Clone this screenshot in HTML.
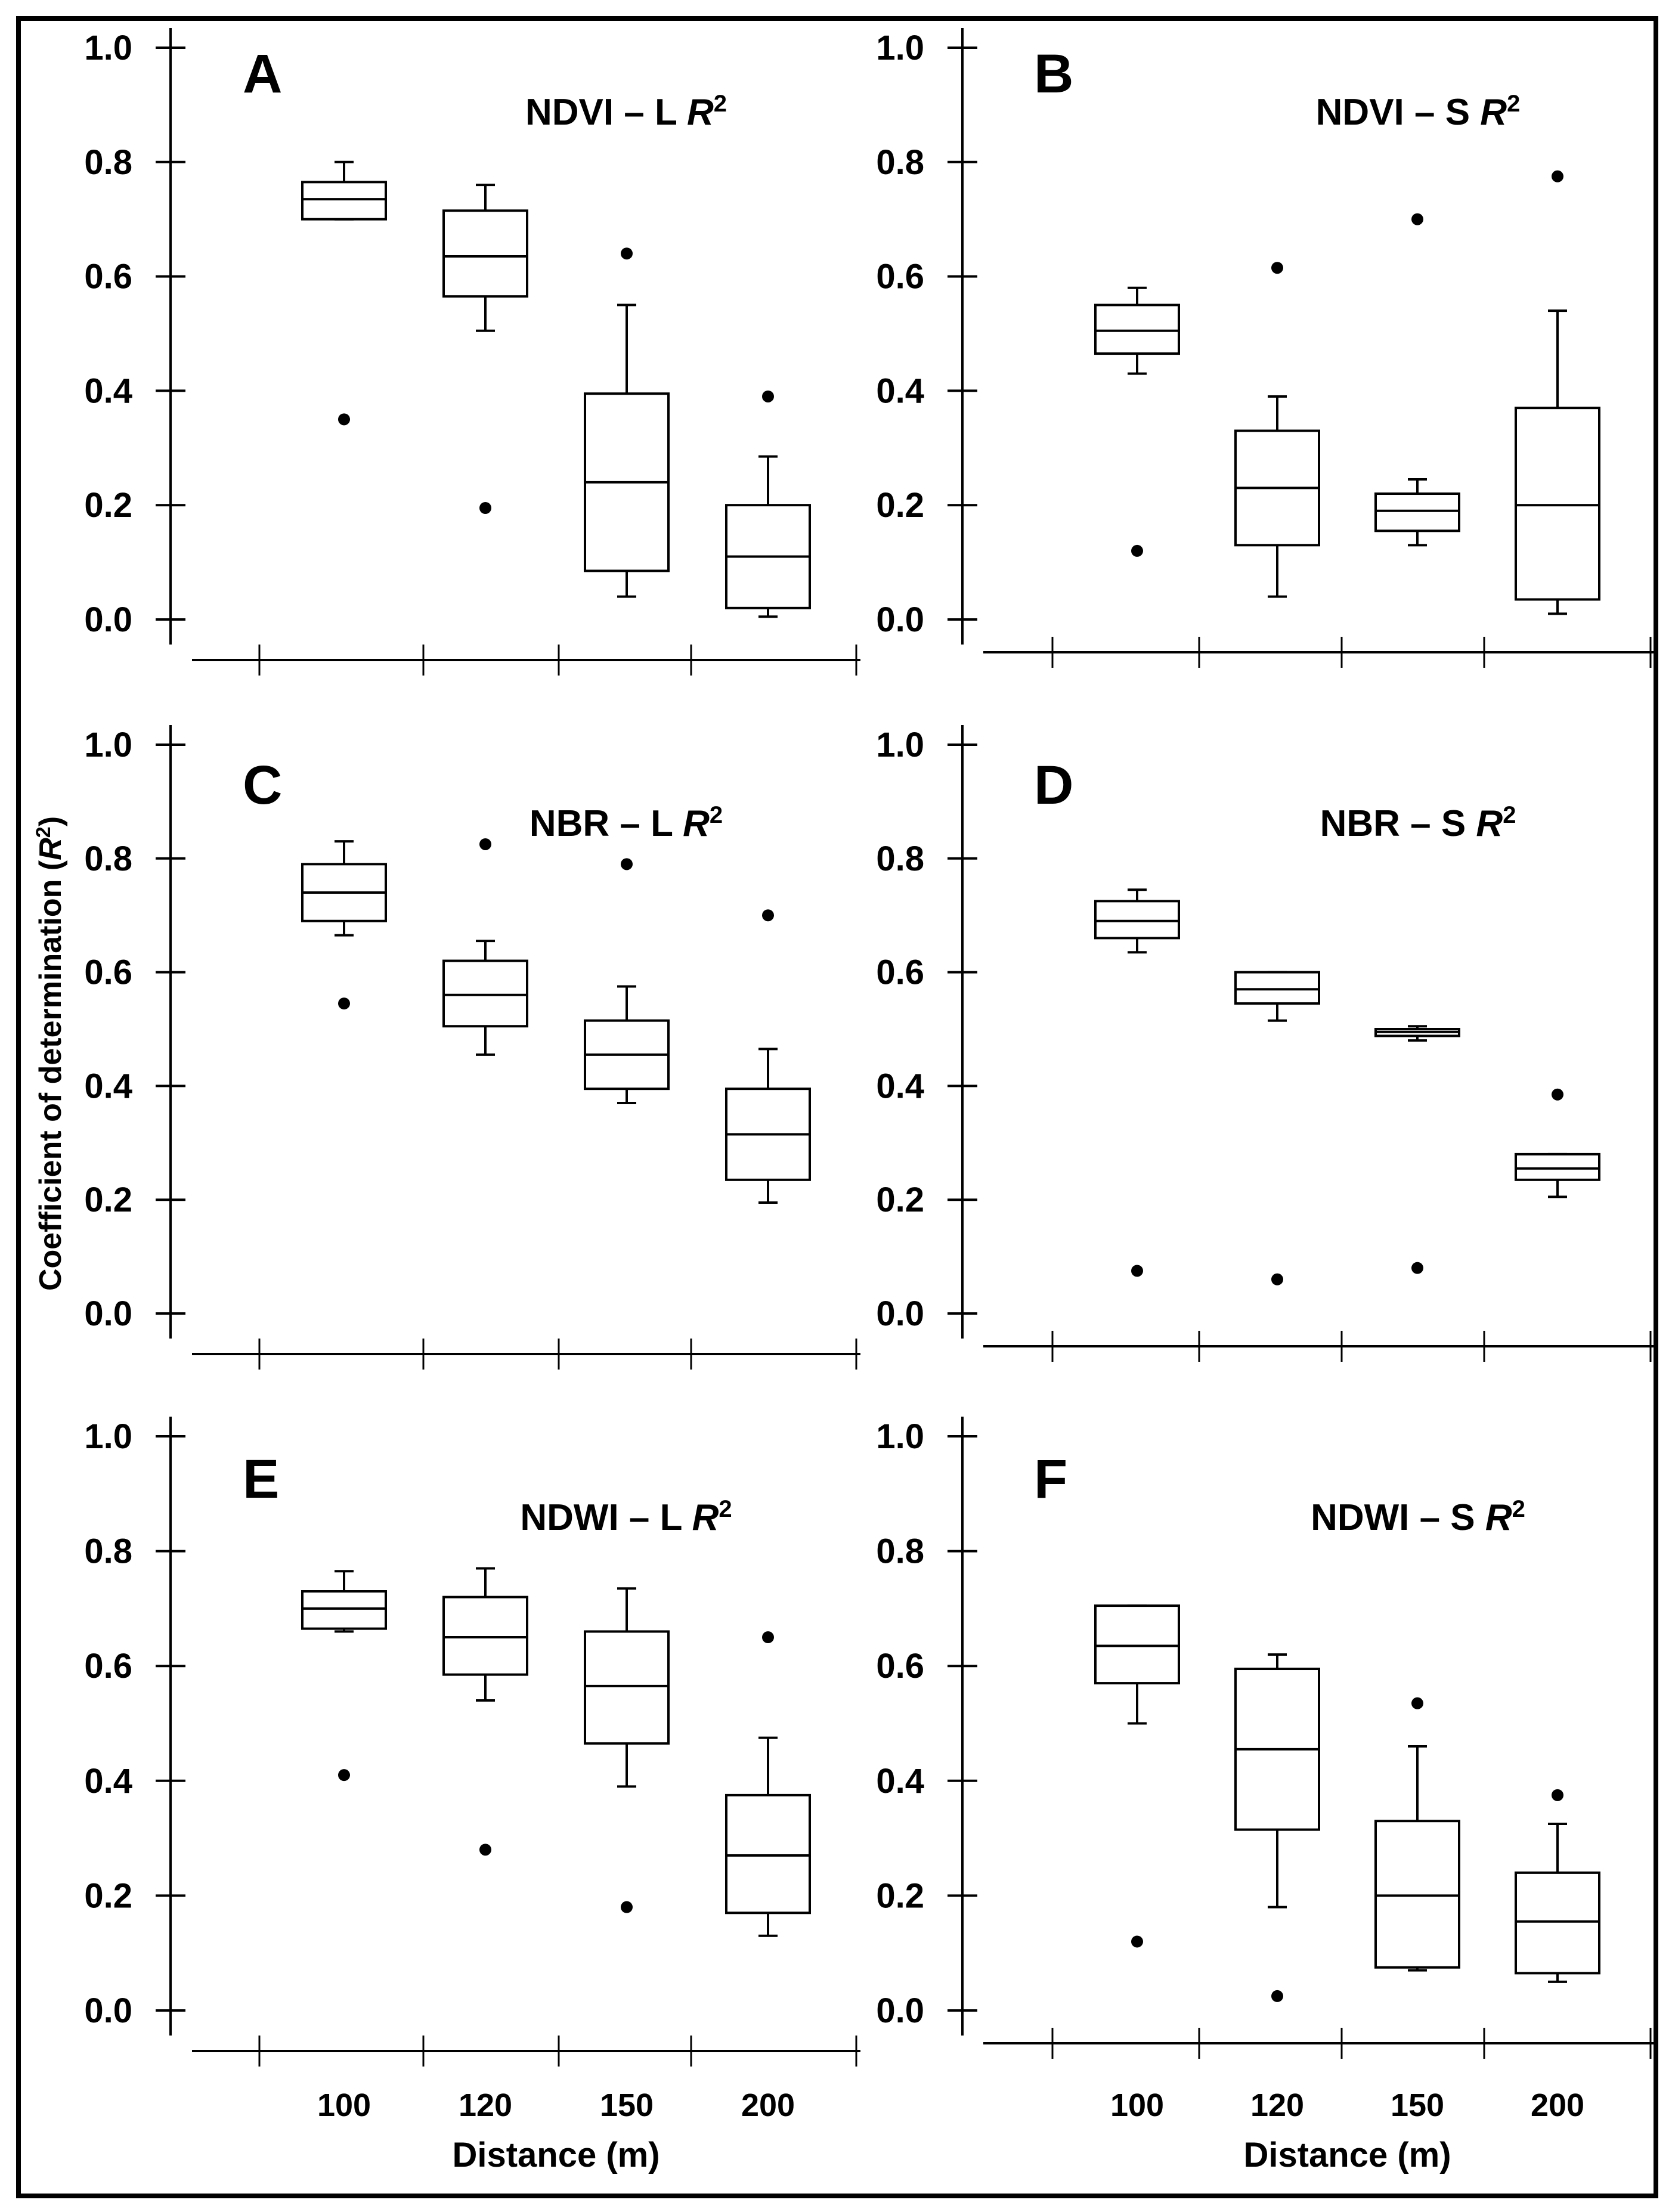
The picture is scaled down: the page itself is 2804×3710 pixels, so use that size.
<!DOCTYPE html>
<html><head><meta charset="utf-8"><style>
html,body{margin:0;padding:0;background:#fff}
svg{display:block}
text{font-family:"Liberation Sans",Arial,sans-serif;font-weight:bold;fill:#000}
</style></head><body>
<svg id="chart" width="2804" height="3710" viewBox="0 0 2804 3710" xmlns="http://www.w3.org/2000/svg">
<rect x="31" y="31" width="2746" height="3652" fill="none" stroke="#000" stroke-width="8"/>
<text transform="translate(102,1767) rotate(-90)" text-anchor="middle" font-size="52">Coefficient of determination (<tspan font-style="italic">R</tspan><tspan font-size="34" dy="-18">2</tspan><tspan dy="18">)</tspan></text>
<g id="panels"></g>
</svg>
<script>
const categories = ["100","120","150","200"];
const yTicks = [0.0,0.2,0.4,0.6,0.8,1.0];
const yTickLabels = ["0.0","0.2","0.4","0.6","0.8","1.0"];
const panelLetters = ["A","B","C","D","E","F"];
const panelTitles = ["NDVI – L","NDVI – S","NBR – L","NBR – S","NDWI – L","NDWI – S"];
// each: [low whisker, q1, median, q3, high whisker, outlier] per category
const ndviL = [[0.70,0.70,0.735,0.765,0.80,0.35],[0.505,0.565,0.635,0.715,0.76,0.195],[0.04,0.085,0.24,0.395,0.55,0.64],[0.005,0.02,0.11,0.20,0.285,0.39]];
const ndviS = [[0.43,0.465,0.505,0.55,0.58,0.12],[0.04,0.13,0.23,0.33,0.39,0.615],[0.13,0.155,0.19,0.22,0.245,0.70],[0.01,0.035,0.20,0.37,0.54,0.775]];
const nbrL = [[0.665,0.69,0.74,0.79,0.83,0.545],[0.455,0.505,0.56,0.62,0.655,0.825],[0.37,0.395,0.455,0.515,0.575,0.79],[0.195,0.235,0.315,0.395,0.465,0.70]];
const nbrS = [[0.635,0.66,0.69,0.725,0.745,0.075],[0.515,0.545,0.57,0.60,0.60,0.06],[0.48,0.488,0.495,0.50,0.505,0.08],[0.205,0.235,0.255,0.28,0.28,0.385]];
const ndwiL = [[0.66,0.665,0.70,0.73,0.765,0.41],[0.54,0.585,0.65,0.72,0.77,0.28],[0.39,0.465,0.565,0.66,0.735,0.18],[0.13,0.17,0.27,0.375,0.475,0.65]];
const ndwiS = [[0.50,0.57,0.635,0.705,0.705,0.12],[0.18,0.315,0.455,0.595,0.62,0.025],[0.07,0.075,0.20,0.33,0.46,0.535],[0.05,0.065,0.155,0.24,0.325,0.375]];
const panelData = [ndviL, ndviS, nbrL, nbrS, ndwiL, ndwiS];

const NS="http://www.w3.org/2000/svg";
const root=document.getElementById('panels');
function mk(tag,attrs,parent){const e=document.createElementNS(NS,tag);for(const k in attrs)e.setAttribute(k,attrs[k]);parent.appendChild(e);return e;}

const rows=[{y0:1039,y1:80,title:207},{y0:2203,y1:1249,title:1400},{y0:3372,y1:2409,title:2564}];
const cols=[{ax:286,c0:577,step:237,xa0:322,xa1:1443,xt:[435,710,937,1159,1436],xoff:68,letter:407,tcx:1050},
            {ax:1614,c0:1907,step:235,xa0:1649,xa1:2778,xt:[1765,2011,2250,2489,2768],xoff:55,letter:1734,tcx:2378}];

for(let p=0;p<6;p++){
  const r=rows[Math.floor(p/2)], c=cols[p%2];
  const g=mk('g',{},root);
  
  
  const yS=v=>r.y0+(r.y1-r.y0)*v;
  const xS=i=>c.c0+c.step*i;
  const ya=mk('line',{x1:c.ax,x2:c.ax,y1:r.y1-33,y2:r.y0+42,stroke:'#000','stroke-width':4},g);
  
  
  yTicks.forEach((t,i)=>{
    const tl=mk('line',{x1:c.ax-25,x2:c.ax+25,y1:yS(t),y2:yS(t),stroke:'#000','stroke-width':4},g);
    
    
    const tx=mk('text',{x:c.ax-64,y:yS(t)+20,'text-anchor':'end','font-size':58},g);
    tx.textContent=yTickLabels[i];
    
    
  });
  const xy=r.y0+c.xoff;
  const xa=mk('line',{x1:c.xa0,x2:c.xa1,y1:xy,y2:xy,stroke:'#000','stroke-width':4},g);
  
  
  c.xt.forEach(x=>{
    const t=mk('line',{x1:x,x2:x,y1:xy-26,y2:xy+26,stroke:'#000','stroke-width':3},g);
    
    
  });
  const L=mk('text',{x:c.letter,y:r.title-52,'font-size':92},g);
  L.textContent=panelLetters[p];
  
  
  const T=mk('text',{x:c.tcx,y:r.title+2,'text-anchor':'middle','font-size':62},g);
  
  
  T.innerHTML=panelTitles[p]+' <tspan font-style="italic">R</tspan><tspan font-size="40" dy="-22">2</tspan>';
  panelData[p].forEach((d,i)=>{
    const cx=xS(i), hw=70, cw=16;
    const bg=mk('g',{stroke:'#000','stroke-width':4,fill:'none'},g);
    
    
    mk('line',{x1:cx,x2:cx,y1:yS(d[0]),y2:yS(d[1])},bg);
    mk('line',{x1:cx,x2:cx,y1:yS(d[3]),y2:yS(d[4])},bg);
    mk('line',{x1:cx-cw,x2:cx+cw,y1:yS(d[0]),y2:yS(d[0])},bg);
    mk('line',{x1:cx-cw,x2:cx+cw,y1:yS(d[4]),y2:yS(d[4])},bg);
    mk('rect',{x:cx-hw,y:yS(d[3]),width:hw*2,height:Math.max(1,yS(d[1])-yS(d[3])),fill:'#fff'},bg);
    mk('line',{x1:cx-hw,x2:cx+hw,y1:yS(d[2]),y2:yS(d[2])},bg);
    const o=mk('circle',{cx:cx,cy:yS(d[5]),r:10,fill:'#000',stroke:'none'},g);
    
    
  });
  if(p>=4){
    categories.forEach((cat,i)=>{
      const t=mk('text',{x:xS(i),y:3549,'text-anchor':'middle','font-size':54},g);
      t.textContent=cat;
      
      
    });
    const xt=mk('text',{x:(c.c0+xS(3))/2,y:3634,'text-anchor':'middle','font-size':58},g);
    xt.textContent='Distance (m)';
    
    
  }
}
</script>
</body></html>
